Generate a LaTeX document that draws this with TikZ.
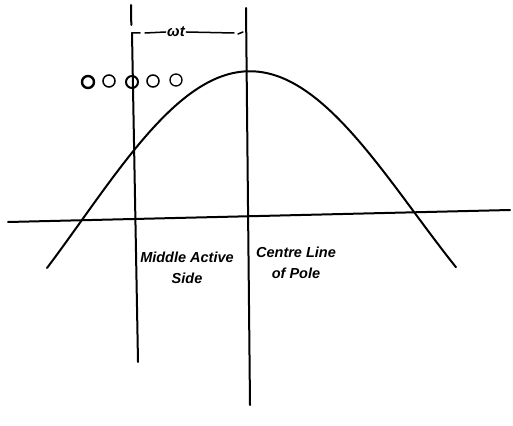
\documentclass[tikz,border=0pt]{standalone}
\usepackage{fontspec}
\setmainfont{Liberation Sans}
\begin{document}
\begin{tikzpicture}[x=1pt,y=-1pt,
  ink/.style={line width=2pt,line cap=round},
  thinink/.style={line width=1.5pt,line cap=round},
  lbl/.style={font=\fontsize{14.5}{21}\selectfont\bfseries\itshape,align=center,inner sep=0pt},
  cond/.style={circle,draw,line width=1.5pt,minimum size=12pt,inner sep=0pt}]
\useasboundingbox (0,0) rectangle (513,425);
% axis
\draw[ink] (8,222) -- (510,210);
% left line (middle active side)
\draw[ink] (131,5) -- (131.3,25);
\draw[ink] (132,33) -- (138,362);
% right line (centre line of pole)
\draw[ink] (246,8) -- (250,405);
% curve
\draw[ink,smooth,samples=80,domain=47:456]
  plot (\x,{223-(\x-8)*12/502-146*cos(deg((\x-248)/106.3))});
% omega t dimension
\node[inner sep=1.5pt,font=\fontsize{15}{17}\selectfont\bfseries\itshape] (wt) at (176,32) {ωt};
\draw[thinink] (132,37) -- (132,33) -- (140,33) (145,33) -- (wt.west);
\draw[thinink] (wt.east) -- (234,33) (238,34) -- (243,32);
% conductors
\node[cond,line width=2.4pt] (c1) at (88,82) {};
\node[cond] (c2) at (109,81) {};
\node[cond,line width=2pt] (c3) at (132,82) {};
\node[cond] (c4) at (153,81) {};
\node[cond,line width=1.3pt] (c5) at (176,80) {};
% labels
\node[lbl] (ma) at (187,268) {Middle Active\\Side};
\node[lbl] (cl) at (296,263) {Centre Line\\of Pole};
\end{tikzpicture}
\end{document}
